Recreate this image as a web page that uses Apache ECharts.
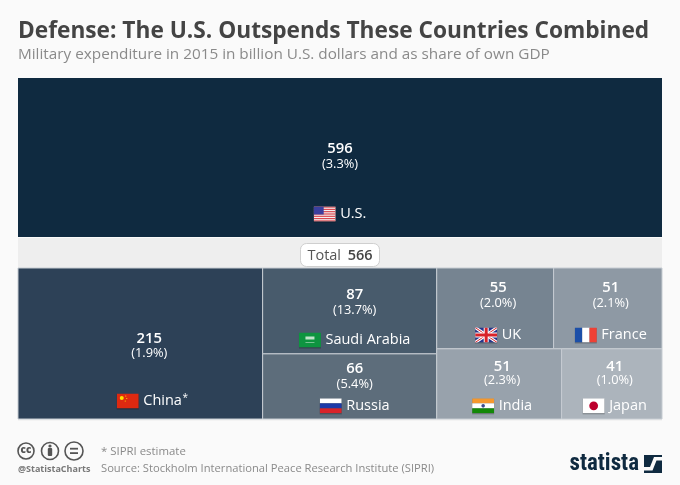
<!DOCTYPE html>
<html><head><meta charset="utf-8">
<style>html,body{margin:0;padding:0;background:#fafafa}#c{width:680px;height:485px}</style>
<script src="https://cdn.jsdelivr.net/npm/echarts@6/dist/echarts.min.js"></script>
</head><body><div id="c"></div>
<script>
const countries = ['U.S.','China','Saudi Arabia','Russia','UK','France','India','Japan'];
const spending = [596,215,87,66,55,51,51,41];
const gdpShare = ['3.3%','1.9%','13.7%','5.4%','2.0%','2.1%','2.3%','1.0%'];
const footnoteMark = '*';
const totalLabel = 'Total';
const totalValue = 566;

const cellColors = ['#0f2a40','#2d4157','#485b6c','#5d6d7b','#768491','#8e99a4','#98a2ac','#acb4bc'];
// distance from the cell top to the value / share / name text centres
const textOffsets = [[71,86,136],[71,85,133],[27,42,72],[15,30,52],[20,35,67],[20,35,67],[18,32,57],[18,32,57]];
// horizontal shift of the text block from the cell centre
const textShift = [0,9,5,5,3,3,3,3];

function svg(body){return 'data:image/svg+xml;utf8,'+encodeURIComponent('<svg xmlns="http://www.w3.org/2000/svg" width="88" height="60" viewBox="0 0 22 15">'+body+'</svg>');}
let usStripes='';for(let i=0;i<7;i++)usStripes+='<rect y="'+(i*15/6.5)+'" width="22" height="1.15" fill="#d8424a"/>';
const flags = {
 'U.S.':svg('<rect width="22" height="15" fill="#f4f0f0"/>'+usStripes+'<rect width="10" height="8" fill="#3a3f9e"/>'),
 'China':svg('<rect width="22" height="15" fill="#de2910"/><circle cx="5" cy="4.5" r="2" fill="#ffde00"/><circle cx="9" cy="2.5" r=".6" fill="#ffde00"/><circle cx="10" cy="5" r=".6" fill="#ffde00"/><circle cx="8.5" cy="7.5" r=".6" fill="#ffde00"/>'),
 'Saudi Arabia':svg('<rect width="22" height="15" fill="#0e9440"/><rect x="6.5" y="4" width="9" height="3" fill="#bfe3ca"/><rect x="6.5" y="9.5" width="9" height=".6" fill="#bfe3ca"/>'),
 'Russia':svg('<rect width="22" height="5" fill="#fff"/><rect y="5" width="22" height="5" fill="#1c3aa8"/><rect y="10" width="22" height="5" fill="#d8232a"/>'),
 'UK':svg('<rect width="22" height="15" fill="#27348b"/><path d="M0 0L22 15M22 0L0 15" stroke="#fff" stroke-width="3"/><path d="M0 0L22 15M22 0L0 15" stroke="#d8232a" stroke-width="1"/><path d="M11 0V15M0 7.5H22" stroke="#fff" stroke-width="5"/><path d="M11 0V15M0 7.5H22" stroke="#d8232a" stroke-width="3"/>'),
 'France':svg('<rect width="7.4" height="15" fill="#1c4fa8"/><rect x="7.4" width="7.3" height="15" fill="#fff"/><rect x="14.7" width="7.3" height="15" fill="#ef4135"/>'),
 'India':svg('<rect width="22" height="5" fill="#f5982e"/><rect y="5" width="22" height="5" fill="#fff"/><rect y="10" width="22" height="5" fill="#138808"/><circle cx="11" cy="7.5" r="1.8" fill="#3b4a8c"/>'),
 'Japan':svg('<rect width="22" height="15" fill="#fff"/><circle cx="11" cy="7.5" r="4.4" fill="#bc002d"/>')
};

function sum(a){return a.reduce((s,v)=>s+v,0);}
const total = sum(spending.slice(1));
const rects = {};
rects[0] = [0,596,0,596];
rects[1] = [0,spending[1],0,total];
(function(){
  const x0=spending[1], x1=x0+spending[2]+spending[3];
  const h2=total*spending[2]/(spending[2]+spending[3]);
  rects[2]=[x0,x1,0,h2]; rects[3]=[x0,x1,h2,total];
  const rowA=spending[4]+spending[5], rowB=spending[6]+spending[7];
  const w=total-x1, h=total*rowA/(rowA+rowB);
  const a=x1+w*spending[4]/rowA, b=x1+w*spending[6]/rowB;
  rects[4]=[x1,a,0,h]; rects[5]=[a,total,0,h]; rects[6]=[x1,b,h,total]; rects[7]=[b,total,h,total];
})();

const FONT='"Open Sans"';
const mc=document.createElement('canvas').getContext('2d');
function renderCell(params,api){
  const i=api.value(4);
  const p0=api.coord([api.value(0),api.value(2)]), p1=api.coord([api.value(1),api.value(3)]);
  const x=p0[0],y=p0[1],w=p1[0]-p0[0],h=p1[1]-p0[1],cx=x+w/2+textShift[i];
  const off=textOffsets[i], name=countries[i];
  mc.font='14.5px "Open Sans"';
  const tw=mc.measureText(name).width, fw=22, gap=4.5, sx=cx-(fw+gap+tw)/2;
  const txt=(t,tx,ty,size,weight,align)=>({type:'text',style:{text:t,x:tx,y:ty,fill:'#ffffff',font:weight+' '+size+'px '+FONT,align:align||'center',verticalAlign:'middle'}});
  const kids=[
    {type:'rect',shape:{x,y,width:w,height:h},style:{fill:cellColors[i],stroke:i===0?cellColors[0]:'#c6ccd2',lineWidth:i===0?0:1}},
    txt(String(spending[i]),cx,y+off[0],14.8,600),
    txt('('+gdpShare[i]+')',cx,y+off[1],12.8,400),
    {type:'rect',shape:{x:sx,y:y+off[2]-7,width:fw,height:15.5},style:{fill:'rgba(0,0,0,0.25)'}},
    {type:'image',style:{image:flags[countries[i]],x:sx,y:y+off[2]-7.5,width:fw,height:15}},
    txt(name,sx+fw+gap,y+off[2],14.5,400,'left')
  ];
  if(i===1) kids.push(txt(footnoteMark,sx+fw+gap+tw+0.5,y+off[2]-3,10,400,'left'));
  return {type:'group',children:kids};
}
function cellData(ids){return ids.map(i=>[rects[i][0],rects[i][1],rects[i][2],rects[i][3],i]);}
const axisOff=(max,grid)=>({type:'value',min:0,max,gridIndex:grid,show:false});

const chart=echarts.init(document.getElementById('c'),null,{renderer:'canvas'});
const grey='#8a8a8a';
chart.setOption({
  backgroundColor:'#fafafa',
  animation:false,
  title:[
    {text:'Defense: The U.S. Outspends These Countries Combined',left:18,top:20,padding:0,textStyle:{fontFamily:FONT,fontSize:22.7,fontWeight:700,color:'#444444'}},
    {text:'Military expenditure in 2015 in billion U.S. dollars and as share of own GDP',left:18,top:47,padding:0,textStyle:{fontFamily:FONT,fontSize:15.3,fontWeight:400,color:'#8a8a8a'}}
  ],
  grid:[
    {left:18,top:78,width:644,height:159},
    {left:18,top:268,width:644,height:151}
  ],
  xAxis:[axisOff(596,0),axisOff(total,1)],
  yAxis:[Object.assign(axisOff(596,0),{inverse:true}),Object.assign(axisOff(total,1),{inverse:true})],
  series:[
    {type:'custom',coordinateSystem:'cartesian2d',xAxisIndex:0,yAxisIndex:0,renderItem:renderCell,encode:{x:[0,1],y:[2,3]},data:cellData([0]),clip:false,silent:true},
    {type:'custom',coordinateSystem:'cartesian2d',xAxisIndex:1,yAxisIndex:1,renderItem:renderCell,encode:{x:[0,1],y:[2,3]},data:cellData([1,2,3,4,5,6,7]),clip:false,silent:true}
  ],
  graphic:[
    {type:'rect',shape:{x:18,y:238,width:644,height:30},style:{fill:'#eeeeee'},z:0},
    {type:'rect',shape:{x:18,y:419,width:644,height:2},style:{fill:'#f3f3f3'},z:0},
    {type:'rect',shape:{x:300.5,y:243.5,width:79,height:23,r:6},style:{fill:'#ffffff',stroke:'#cfcfcf',lineWidth:1},z:5},
    {type:'text',style:{text:'{a|'+totalLabel+'}  {b|'+totalValue+'}',x:340,y:255.5,align:'center',verticalAlign:'middle',rich:{a:{font:'400 14.5px '+FONT,fill:'#555'},b:{font:'600 14.5px '+FONT,fill:'#444'}}},z:6},
    {type:'circle',shape:{cx:26,cy:451,r:8},style:{fill:'none',stroke:'#555',lineWidth:1.6}},
    {type:'text',style:{text:'cc',x:26,y:450,align:'center',verticalAlign:'middle',font:'800 10px '+FONT,fill:'#555'}},
    {type:'circle',shape:{cx:50,cy:451,r:8.5},style:{fill:'none',stroke:'#555',lineWidth:1.6}},
    {type:'circle',shape:{cx:50,cy:446,r:1.6},style:{fill:'#555'}},
    {type:'rect',shape:{x:47.8,y:448,width:4.4,height:8,r:1},style:{fill:'#555'}},
    {type:'circle',shape:{cx:74,cy:451,r:9},style:{fill:'none',stroke:'#555',lineWidth:1.6}},
    {type:'rect',shape:{x:70,y:447.8,width:8,height:1.8},style:{fill:'#555'}},
    {type:'rect',shape:{x:70,y:452.2,width:8,height:1.8},style:{fill:'#555'}},
    {type:'text',style:{text:'@StatistaCharts',x:18,y:469.5,verticalAlign:'middle',font:'700 9px '+FONT,fill:'#777'}},
    {type:'text',style:{text:'* SIPRI estimate',x:101,y:451.5,verticalAlign:'middle',font:'400 11.4px '+FONT,fill:grey}},
    {type:'text',style:{text:'Source: Stockholm International Peace Research Institute (SIPRI)',x:101,y:469,verticalAlign:'middle',font:'400 11.2px '+FONT,fill:grey}},
    {type:'text',style:{text:'statista',x:639,y:464,align:'right',verticalAlign:'middle',font:'700 23px "Roboto Condensed","Open Sans"',fill:'#0f2a40'}},
    {type:'polygon',shape:{points:[[644,455],[644,473],[662,473],[662,455]]},style:{fill:'#0f2a40'}},
    {type:'polygon',shape:{points:[[644,467],[650,467],[654,457],[662,457],[662,460.5],[656.5,460.5],[652.5,470.5],[644,470.5]]},style:{fill:'#fafafa'}}
  ]
});
</script></body></html>
